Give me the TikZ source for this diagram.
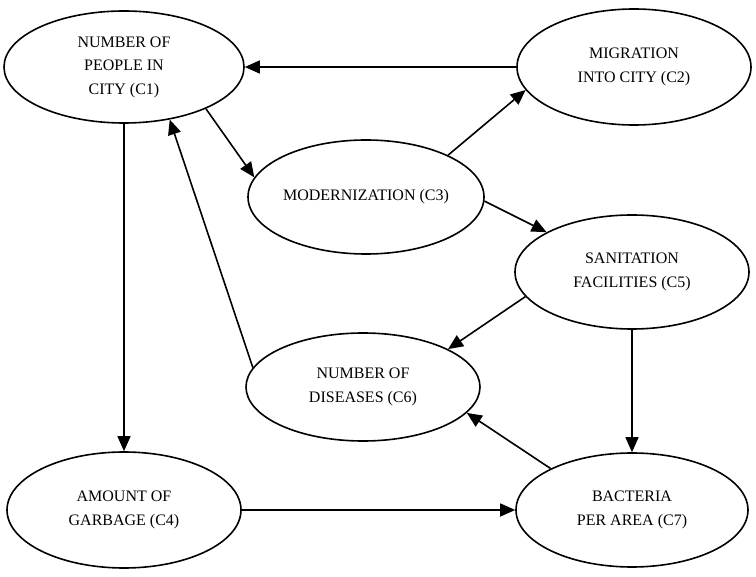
\documentclass[tikz,border=0pt]{standalone}
\usepackage{fontspec}
\setmainfont{Liberation Serif}
\usetikzlibrary{shapes.geometric,arrows.meta}

\begin{document}
\begin{tikzpicture}
    [
    x=1pt,
    y=-1pt,
    concept/.style={
        ellipse,
        draw=black,
        line width=1.6pt,
        fill=white,
        minimum width=234pt,
        minimum height=114pt,
        inner sep=0pt,
        align=center,
        font=\fontsize{16}{23.5}\selectfont
    },
    arrow/.style={-{Triangle[length=15pt,width=13pt]}, line width=1.6pt}
    ]

    \useasboundingbox (0,0) rectangle (756,577);

% Concepts
    \node[concept, minimum width=240pt, minimum height=112pt] (c1) at (124,67) {NUMBER OF\\PEOPLE IN\\CITY (C1)};
    \node[concept, minimum height=116pt] (c2) at (634,67) {MIGRATION\\INTO CITY (C2)};
    \node[concept, minimum width=236pt] (c3) at (366,197) {MODERNIZATION (C3)};
    \node[concept, minimum height=116pt] (c4) at (124,510) {AMOUNT OF\\GARBAGE (C4)};
    \node[concept] (c5) at (632,272) {SANITATION\\FACILITIES (C5)};
    \node[concept, minimum height=108pt] (c6) at (363,387) {NUMBER OF\\DISEASES (C6)};
    \node[concept, minimum width=232pt] (c7) at (632,510) {BACTERIA\\PER AREA (C7)};

% Causal links
    \draw[arrow] (c2.west) -- (c1.east);
    \draw[arrow] (c1.333) -- (c3.170);
    \draw[arrow] (c3.27) -- (c2.192);
    \draw[arrow] (c3.358) -- (c5.155);
    \draw[arrow] (c5.193) -- (c6.24);
    \draw[arrow] (c5.south) -- (c7.north);
    \draw[arrow] (c7.153) -- (c6.346);
    \draw[arrow] (c6.170) -- (c1.311);
    \draw[arrow] (c1.south) -- (c4.north);
    \draw[arrow] (c4.east) -- (c7.west);

\end{tikzpicture}
\end{document}
